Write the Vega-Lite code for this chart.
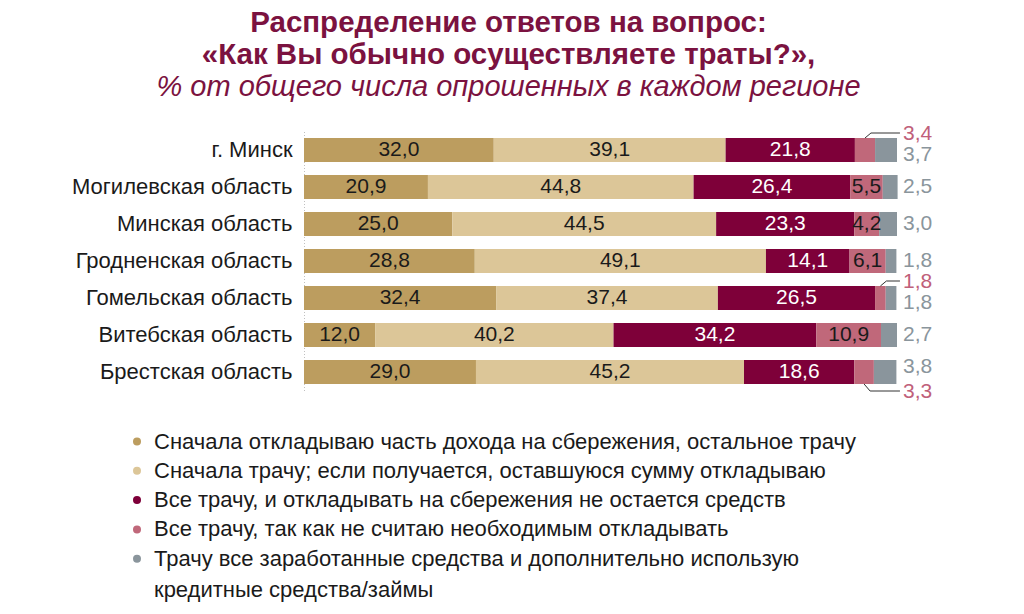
{
  "$schema": "https://vega.github.io/schema/vega-lite/v6.json",
  "width": 593,
  "height": 259,
  "autosize": {"type": "none"},
  "padding": {"left": 304, "top": 131.5, "right": 127, "bottom": 223.5},
  "background": "white",
  "config": {"view": {"stroke": null}, "style": {"guide-label": {"lineHeight": 31}}},
  "title": {
    "text": ["Распределение ответов на вопрос:", "«Как Вы обычно осуществляете траты?»,"],
    "subtitle": "% от общего числа опрошенных в каждом регионе",
    "anchor": "middle",
    "frame": "group",
    "dx": -92,
    "offset": 20,
    "font": "Liberation Sans",
    "fontSize": 29.5,
    "fontWeight": "bold",
    "color": "#7b1240",
    "lineHeight": 32,
    "subtitleFont": "Liberation Sans",
    "subtitleFontSize": 29,
    "subtitleFontStyle": "italic",
    "subtitleFontWeight": "normal",
    "subtitleColor": "#7b1240",
    "subtitlePadding": 3
  },
  "datasets": {
    "rows": [
      {"region": "г. Минск", "cat": 1, "val": 32.0},
      {"region": "г. Минск", "cat": 2, "val": 39.1},
      {"region": "г. Минск", "cat": 3, "val": 21.8},
      {"region": "г. Минск", "cat": 4, "val": 3.4},
      {"region": "г. Минск", "cat": 5, "val": 3.7},
      {"region": "Могилевская область", "cat": 1, "val": 20.9},
      {"region": "Могилевская область", "cat": 2, "val": 44.8},
      {"region": "Могилевская область", "cat": 3, "val": 26.4},
      {"region": "Могилевская область", "cat": 4, "val": 5.5},
      {"region": "Могилевская область", "cat": 5, "val": 2.5},
      {"region": "Минская область", "cat": 1, "val": 25.0},
      {"region": "Минская область", "cat": 2, "val": 44.5},
      {"region": "Минская область", "cat": 3, "val": 23.3},
      {"region": "Минская область", "cat": 4, "val": 4.2},
      {"region": "Минская область", "cat": 5, "val": 3.0},
      {"region": "Гродненская область", "cat": 1, "val": 28.8},
      {"region": "Гродненская область", "cat": 2, "val": 49.1},
      {"region": "Гродненская область", "cat": 3, "val": 14.1},
      {"region": "Гродненская область", "cat": 4, "val": 6.1},
      {"region": "Гродненская область", "cat": 5, "val": 1.8},
      {"region": "Гомельская область", "cat": 1, "val": 32.4},
      {"region": "Гомельская область", "cat": 2, "val": 37.4},
      {"region": "Гомельская область", "cat": 3, "val": 26.5},
      {"region": "Гомельская область", "cat": 4, "val": 1.8},
      {"region": "Гомельская область", "cat": 5, "val": 1.8},
      {"region": "Витебская область", "cat": 1, "val": 12.0},
      {"region": "Витебская область", "cat": 2, "val": 40.2},
      {"region": "Витебская область", "cat": 3, "val": 34.2},
      {"region": "Витебская область", "cat": 4, "val": 10.9},
      {"region": "Витебская область", "cat": 5, "val": 2.7},
      {"region": "Брестская область", "cat": 1, "val": 29.0},
      {"region": "Брестская область", "cat": 2, "val": 45.2},
      {"region": "Брестская область", "cat": 3, "val": 18.6},
      {"region": "Брестская область", "cat": 4, "val": 3.3},
      {"region": "Брестская область", "cat": 5, "val": 3.8}
    ],
    "cats": [
      {"cat": 1, "name": "Сначала откладываю часть дохода на сбережения, остальное трачу"},
      {"cat": 2, "name": "Сначала трачу; если получается, оставшуюся сумму откладываю"},
      {"cat": 3, "name": "Все трачу, и откладывать на сбережения не остается средств"},
      {"cat": 4, "name": "Все трачу, так как не считаю необходимым откладывать"},
      {"cat": 5, "name": "Трачу все заработанные средства и дополнительно использую кредитные средства/займы"}
    ]
  },
  "data": {"name": "rows"},
  "transform": [
    {"lookup": "cat", "from": {"data": {"name": "cats"}, "key": "cat", "fields": ["name"]}},
    {"stack": "val", "groupby": ["region"], "sort": [{"field": "cat", "order": "ascending"}], "as": ["x0", "x1"]},
    {"calculate": "(datum.x0 + datum.x1) / 2", "as": "xm"},
    {"calculate": "replace(format(datum.val, '.1f'), '.', ',')", "as": "lbl"}
  ],
  "encoding": {
    "y": {
      "field": "region",
      "type": "nominal",
      "sort": ["г. Минск", "Могилевская область", "Минская область", "Гродненская область", "Гомельская область", "Витебская область", "Брестская область"],
      "scale": {"paddingInner": 0.35, "paddingOuter": 0.175},
      "axis": {
        "title": null,
        "labelFont": "Liberation Sans",
        "labelFontSize": 22,
        "labelColor": "#1a1a1a",
        "labelPadding": 12,
        "labelLimit": 300,
        "ticks": false,
        "domain": true,
        "domainColor": "#c0c0c0",
        "domainDash": [1, 2]
      }
    }
  },
  "layer": [
    {
      "mark": {"type": "bar"},
      "encoding": {
        "x": {"field": "x0", "type": "quantitative", "scale": {"domain": [0, 100], "nice": false}, "axis": null},
        "x2": {"field": "x1"},
        "color": {
          "field": "name",
          "type": "nominal",
          "scale": {
            "domain": [
              "Сначала откладываю часть дохода на сбережения, остальное трачу",
              "Сначала трачу; если получается, оставшуюся сумму откладываю",
              "Все трачу, и откладывать на сбережения не остается средств",
              "Все трачу, так как не считаю необходимым откладывать",
              "Трачу все заработанные средства и дополнительно использую кредитные средства/займы"
            ],
            "range": ["#bc9d5f", "#dcc698", "#7e0039", "#c0687a", "#8a959c"]
          },
          "legend": {
            "title": null,
            "orient": "none",
            "legendX": -178,
            "legendY": 299,
            "direction": "vertical",
            "padding": 0,
            "symbolType": "circle",
            "symbolSize": 64,
            "symbolStrokeWidth": 0,
            "labelFont": "Liberation Sans",
            "labelFontSize": 22,
            "labelColor": "#1a1a1a",
            "labelOffset": 6,
            "labelLimit": 900,
            "rowPadding": 7.3,
            "labelExpr": "split(replace(datum.label, 'использую ', 'использую|'), '|')"
          }
        }
      }
    },
    {
      "transform": [{"filter": "datum.cat == 1 || datum.cat == 2 || (datum.cat == 4 && datum.val >= 4)"}],
      "mark": {"type": "text", "font": "Liberation Sans", "fontSize": 21, "color": "#1a1a1a"},
      "encoding": {"x": {"field": "xm", "type": "quantitative"}, "text": {"field": "lbl"}}
    },
    {
      "transform": [{"filter": "datum.cat == 3"}],
      "mark": {"type": "text", "font": "Liberation Sans", "fontSize": 21, "color": "#ffffff"},
      "encoding": {"x": {"field": "xm", "type": "quantitative"}, "text": {"field": "lbl"}}
    },
    {
      "transform": [{"filter": "datum.cat == 5 && datum.region != 'г. Минск' && datum.region != 'Гомельская область' && datum.region != 'Брестская область'"}],
      "mark": {"type": "text", "font": "Liberation Sans", "fontSize": 21, "color": "#8a959c", "align": "left", "dx": 6},
      "encoding": {"x": {"datum": 100, "type": "quantitative"}, "text": {"field": "lbl"}}
    },
    {
      "transform": [{"filter": "datum.cat == 5 && (datum.region == 'г. Минск' || datum.region == 'Гомельская область')"}],
      "mark": {"type": "text", "font": "Liberation Sans", "fontSize": 21, "color": "#8a959c", "align": "left", "dx": 6, "dy": 5},
      "encoding": {"x": {"datum": 100, "type": "quantitative"}, "text": {"field": "lbl"}}
    },
    {
      "transform": [{"filter": "datum.cat == 5 && datum.region == 'Брестская область'"}],
      "mark": {"type": "text", "font": "Liberation Sans", "fontSize": 21, "color": "#8a959c", "align": "left", "dx": 6, "dy": -5},
      "encoding": {"x": {"datum": 100, "type": "quantitative"}, "text": {"field": "lbl"}}
    },
    {
      "transform": [{"filter": "datum.cat == 4 && (datum.region == 'г. Минск' || datum.region == 'Гомельская область')"}],
      "mark": {"type": "text", "font": "Liberation Sans", "fontSize": 21, "color": "#c0607a", "align": "left", "dx": 6, "dy": -16},
      "encoding": {"x": {"datum": 100, "type": "quantitative"}, "text": {"field": "lbl"}}
    },
    {
      "transform": [{"filter": "datum.cat == 4 && datum.region == 'Брестская область'"}],
      "mark": {"type": "text", "font": "Liberation Sans", "fontSize": 21, "color": "#c0607a", "align": "left", "dx": 6, "dy": 20},
      "encoding": {"x": {"datum": 100, "type": "quantitative"}, "text": {"field": "lbl"}}
    },
    {
      "transform": [{"filter": "datum.cat == 4 && (datum.region == 'г. Минск' || datum.region == 'Гомельская область')"}],
      "mark": {"type": "rule", "color": "#333333", "strokeWidth": 1, "yOffset": -17, "xOffset": 6},
      "encoding": {"x": {"field": "xm", "type": "quantitative"}, "x2": {"datum": 100.5}}
    },
    {
      "transform": [{"filter": "datum.cat == 4 && (datum.region == 'г. Минск' || datum.region == 'Гомельская область')"}],
      "mark": {"type": "rule", "color": "#333333", "strokeWidth": 1, "yOffset": -12, "y2Offset": -17, "x2Offset": 6},
      "encoding": {"x": {"field": "xm", "type": "quantitative"}, "x2": {"field": "xm"}, "y": {"field": "region", "type": "nominal"}, "y2": {"field": "region"}}
    },
    {
      "transform": [{"filter": "datum.cat == 4 && datum.region == 'Брестская область'"}],
      "mark": {"type": "rule", "color": "#333333", "strokeWidth": 1, "yOffset": 19, "xOffset": 6},
      "encoding": {"x": {"field": "xm", "type": "quantitative"}, "x2": {"datum": 100.5}}
    },
    {
      "transform": [{"filter": "datum.cat == 4 && datum.region == 'Брестская область'"}],
      "mark": {"type": "rule", "color": "#333333", "strokeWidth": 1, "yOffset": 12, "y2Offset": 19, "x2Offset": 6},
      "encoding": {"x": {"field": "xm", "type": "quantitative"}, "x2": {"field": "xm"}, "y": {"field": "region", "type": "nominal"}, "y2": {"field": "region"}}
    }
  ]
}
